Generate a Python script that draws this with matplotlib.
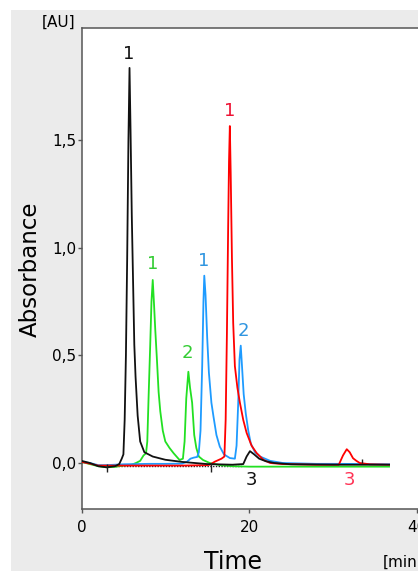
import matplotlib
matplotlib.use("Agg")
import matplotlib.pyplot as plt
from matplotlib.patches import Rectangle

# ---- data ----
black_t = [0, 1, 2, 3, 4, 4.5, 4.8, 5.0, 5.15, 5.3, 5.45, 5.6, 5.73, 5.85, 6.0, 6.15, 6.3, 6.45, 6.7, 7.0, 7.5,
           8.5, 10, 12, 15, 18, 19.3, 19.7, 20.1, 20.6, 21.2, 22, 23, 25, 30, 36.7]
black_A = [0.01, 0.0, -0.015, -0.02, -0.015, -0.005, 0.02, 0.04, 0.2, 0.5, 0.95, 1.5, 1.835, 1.55, 1.15, 0.85, 0.55,
           0.4, 0.22, 0.1, 0.05, 0.03, 0.015, 0.005, -0.005, -0.008, -0.005, 0.03, 0.055, 0.04, 0.02, 0.008, 0.0,
           -0.006, -0.008, -0.008]

green_t = [0, 1, 2, 3, 4, 5, 6, 6.5, 7.0, 7.4, 7.7, 7.85, 8.0, 8.2, 8.35, 8.5, 8.65, 8.8, 9.0, 9.2, 9.4, 9.7, 10.0,
           10.5, 11.0, 11.7, 12.1, 12.3, 12.5, 12.75, 12.95, 13.2, 13.45, 13.7, 14.0, 14.5, 15.3, 16.5, 18, 20, 36.7]
green_A = [0.005, -0.005, -0.015, -0.02, -0.018, -0.012, -0.008, 0.0, 0.01, 0.035, 0.045, 0.1, 0.3, 0.55, 0.75,
           0.85, 0.74, 0.62, 0.48, 0.33, 0.24, 0.15, 0.1, 0.07, 0.045, 0.014, 0.02, 0.1, 0.3, 0.424, 0.35, 0.28,
           0.13, 0.07, 0.03, 0.014, 0.0, -0.01, -0.015, -0.017, -0.017]

blue_t = [0, 1, 2, 3, 5, 8, 10, 12, 12.6, 13.0, 13.4, 13.8, 14.0, 14.2, 14.4, 14.55, 14.65, 14.8, 15.0, 15.2, 15.5,
          15.75, 16.1, 16.5, 17.0, 17.7, 18.3, 18.5, 18.7, 18.85, 19.0, 19.15, 19.35, 19.6, 19.9, 20.2, 20.7, 21.3,
          22.5, 24, 28, 31, 36.7]
blue_A = [0.005, 0.0, -0.01, -0.01, -0.006, -0.004, -0.004, -0.003, 0.006, 0.02, 0.025, 0.028, 0.05, 0.15, 0.45,
          0.75, 0.87, 0.78, 0.58, 0.42, 0.28, 0.215, 0.13, 0.076, 0.04, 0.023, 0.02, 0.08, 0.28, 0.48, 0.545, 0.45,
          0.32, 0.23, 0.15, 0.09, 0.05, 0.03, 0.01, 0.0, -0.004, -0.004, -0.006]

red_t = [0, 1, 2, 3, 5, 8, 12, 15, 15.3, 15.9, 16.7, 17.05, 17.2, 17.35, 17.5, 17.6, 17.7, 17.8, 17.95, 18.1, 18.3,
         18.6, 18.9, 19.3, 19.7, 20.3, 20.9, 21.7, 22.5, 24, 28, 30.7, 31.2, 31.65, 32.0, 32.4, 32.8, 33.2, 34.4,
         36.7]
red_A = [0.005, -0.003, -0.012, -0.012, -0.012, -0.012, -0.012, -0.01, -0.008, 0.006, 0.02, 0.03, 0.2, 0.6, 1.1,
         1.4, 1.565, 1.35, 0.95, 0.65, 0.45, 0.35, 0.28, 0.2, 0.14, 0.08, 0.046, 0.015, 0.0, -0.005, -0.008,
         -0.008, 0.035, 0.064, 0.05, 0.022, 0.01, 0.0, -0.006, -0.008]

# integration marks and baselines
mark_t = [3.0, 15.5, 33.5]
mark_lo = [-0.04, -0.04, 0.0]
mark_hi = [-0.005, 0.0, 0.02]
base_t = [3.0, 19.2]
base_A = [-0.016, -0.016]

# peak labels
lab_text = ["1", "1", "2", "1", "2", "1", "3", "3"]
lab_t = [5.67, 8.53, 12.6, 14.6, 19.3, 17.7, 20.3, 31.96]
lab_A = [1.90, 0.924, 0.511, 0.938, 0.611, 1.633, -0.077, -0.077]
lab_col = ["#111111", "#33cc33", "#33cc33", "#2f95e0", "#2f95e0", "#ee1133", "#111111", "#ff3355"]

y_ticks = [0.0, 0.5, 1.0, 1.5]
y_ticklabels = ["0,0", "0,5", "1,0", "1,5"]
x_ticks = [0, 20, 40]
x_ticklabels = ["0", "20", "40"]

W, H = 418, 571
fig = plt.figure(figsize=(W / 100, H / 100), dpi=100, facecolor="white")
fig.patches.append(Rectangle((11 / W, 0), 1 - 11 / W, (H - 10) / H, transform=fig.transFigure,
                             facecolor="#ebebeb", edgecolor="none", zorder=-10))

ax = fig.add_axes([81.5 / W, 62 / H, 1 - 81.5 / W, (509 - 28) / H])
ax.set_facecolor("white")
ax.set_xlim(0, 40.15)
ax.set_ylim(-0.2137, 2.0204)

lw = 1.3
ax.plot(green_t, green_A, color="#22e022", lw=lw, zorder=3)
ax.plot(blue_t, blue_A, color="#1e9bff", lw=lw, zorder=4)
ax.plot(red_t, red_A, color="#ff0000", lw=lw, zorder=5)
ax.plot(black_t, black_A, color="#111111", lw=lw, zorder=6)
ax.plot(base_t, base_A, color="#222222", lw=1.0, ls=(0, (1, 1)), zorder=2)
ax.vlines(mark_t, mark_lo, mark_hi, color="#222222", lw=1.0, zorder=7)

for s, t, a, c in zip(lab_text, lab_t, lab_A, lab_col):
    ax.text(t, a, s, color=c, fontsize=13, ha="center", va="center")

for side in ["left", "bottom", "top"]:
    ax.spines[side].set_color("#555555")
    ax.spines[side].set_linewidth(1.1)
ax.spines["right"].set_visible(False)

ax.set_yticks(y_ticks)
ax.set_yticklabels(y_ticklabels)
ax.set_xticks(x_ticks)
ax.set_xticklabels(x_ticklabels)
ax.tick_params(axis="y", direction="out", length=3, width=1, pad=1, labelsize=11, color="#555555")
ax.tick_params(axis="x", direction="out", length=3, width=1, pad=5, labelsize=11, color="#555555")

fig.text(30 / W, 1 - 269 / H, "Absorbance", rotation=90, fontsize=16.5, ha="center", va="center")
fig.text(232.5 / W, 2 / H, "Time", fontsize=17, ha="center", va="baseline")
fig.text(383 / W, (H - 566.5) / H, "[min]", fontsize=11, ha="left", va="baseline")
fig.text(75 / W, (H - 26.5) / H, "[AU]", fontsize=11, ha="right", va="baseline")

fig.savefig("out.png", dpi=100, facecolor=fig.get_facecolor())
